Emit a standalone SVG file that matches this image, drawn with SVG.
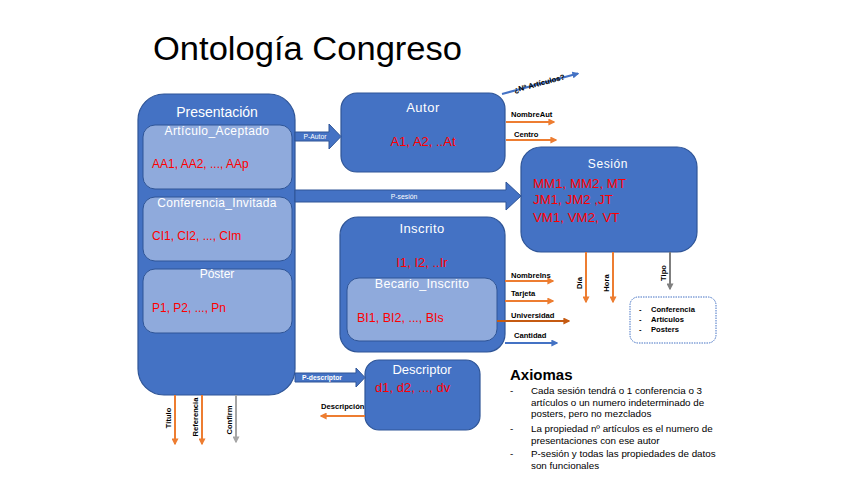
<svg xmlns="http://www.w3.org/2000/svg" width="848" height="477" viewBox="0 0 848 477">
<defs>
<style>
.box{fill:#4472C4;stroke:#2F5597;stroke-width:1.2}
.inner{fill:#8FAADC;stroke:#2F5597;stroke-width:1}
.wt{fill:#fff;font-family:"Liberation Sans",Arial,sans-serif;text-anchor:middle}
.rt{fill:#FF0000;font-family:"Liberation Sans",Arial,sans-serif}
.lbl{fill:#000;font-family:"Liberation Sans",Arial,sans-serif;font-size:7.6px;font-weight:bold}
.blk{fill:#4472C4;stroke:#2F5597;stroke-width:1}
.bl{fill:#fff;font-family:"Liberation Sans",Arial,sans-serif;font-size:6.8px;text-anchor:middle}
.or{stroke:#ED7D31;stroke-width:2;fill:none;marker-end:url(#ao)}
.dor{stroke:#C55A11;stroke-width:2;fill:none;marker-end:url(#ad)}
.gr{stroke:#A5A5A5;stroke-width:2;fill:none;marker-end:url(#ag)}
.gr2{stroke:#7F7F7F;stroke-width:2;fill:none;marker-end:url(#ag2)}
.bu{stroke:#4472C4;stroke-width:2;fill:none;marker-end:url(#ab)}
.ax{fill:#000;font-family:"Liberation Sans",Arial,sans-serif;font-size:9.8px}
</style>
<marker id="ao" viewBox="0 0 10 10" refX="8" refY="5" markerWidth="3.5" markerHeight="3.5" orient="auto"><path d="M0,0 L10,5 L0,10 z" fill="#ED7D31"/></marker>
<marker id="ad" viewBox="0 0 10 10" refX="8" refY="5" markerWidth="3.5" markerHeight="3.5" orient="auto"><path d="M0,0 L10,5 L0,10 z" fill="#C55A11"/></marker>
<marker id="ag" viewBox="0 0 10 10" refX="8" refY="5" markerWidth="3.5" markerHeight="3.5" orient="auto"><path d="M0,0 L10,5 L0,10 z" fill="#A5A5A5"/></marker>
<marker id="ag2" viewBox="0 0 10 10" refX="8" refY="5" markerWidth="3.5" markerHeight="3.5" orient="auto"><path d="M0,0 L10,5 L0,10 z" fill="#7F7F7F"/></marker>
<marker id="ab" viewBox="0 0 10 10" refX="8" refY="5" markerWidth="3.5" markerHeight="3.5" orient="auto"><path d="M0,0 L10,5 L0,10 z" fill="#4472C4"/></marker>
</defs>
<rect width="848" height="477" fill="#fff"/>
<text x="153" y="60" font-family="'Liberation Sans',Arial,sans-serif" font-size="34" fill="#000" textLength="309" lengthAdjust="spacingAndGlyphs">Ontología Congreso</text>

<g id="presentacion">
<rect class="box" x="138" y="94" width="157" height="301" rx="26"/>
<text class="wt" x="217" y="117" font-size="14">Presentación</text>
<g id="articulo_aceptado">
<rect class="inner" x="143" y="125" width="149" height="64" rx="12"/>
<text class="wt" x="217" y="135" font-size="12" letter-spacing="0.4">Artículo_Aceptado</text>
<text class="rt" x="152" y="168" font-size="12">AA1, AA2, ..., AAp</text>
</g>
<g id="conferencia_invitada">
<rect class="inner" x="143" y="197" width="149" height="64" rx="12"/>
<text class="wt" x="217" y="207" font-size="12" letter-spacing="0.3">Conferencia_Invitada</text>
<text class="rt" x="152" y="240" font-size="12">CI1, CI2, ..., CIm</text>
</g>
<g id="poster">
<rect class="inner" x="143" y="269" width="149" height="64" rx="12"/>
<text class="wt" x="217" y="278" font-size="12">Póster</text>
<text class="rt" x="152" y="312" font-size="12">P1, P2, ..., Pn</text>
</g>
</g>

<g id="autor">
<rect class="box" x="341" y="93" width="164" height="79" rx="16"/>
<text class="wt" x="423" y="112" font-size="13" letter-spacing="0.5">Autor</text>
<text class="rt" x="423" y="146" font-size="13" text-anchor="middle">A1, A2, ..At</text>
</g>

<g id="sesion">
<rect class="box" x="521" y="147" width="176" height="105" rx="20"/>
<text class="wt" x="608" y="168" font-size="12" letter-spacing="0.6">Sesión</text>
<text class="rt" x="533" y="188" font-size="13.3">MM1, MM2, MT</text>
<text class="rt" x="533" y="204" font-size="13.3">JM1, JM2 ,JT</text>
<text class="rt" x="533" y="222" font-size="13.3">VM1, VM2, VT</text>
</g>

<g id="inscrito">
<rect class="box" x="340" y="217" width="165" height="135" rx="18"/>
<text class="wt" x="422" y="233" font-size="13" letter-spacing="0.4">Inscrito</text>
<text class="rt" x="422" y="267" font-size="13" text-anchor="middle">I1, I2, ..Ir</text>
<g id="becario_inscrito">
<rect class="inner" x="347" y="278" width="150" height="63" rx="12"/>
<text class="wt" x="422" y="288" font-size="12.5" letter-spacing="0.3">Becario_Inscrito</text>
<text class="rt" x="357" y="322" font-size="12.5">BI1, BI2, ..., BIs</text>
</g>
</g>

<g id="descriptor">
<rect class="box" x="365" y="360" width="115" height="70" rx="14"/>
<text class="wt" x="422" y="374" font-size="13">Descriptor</text>
<text class="rt" x="375" y="392" font-size="13">d1, d2, ..., dv</text>
</g>

<g id="tipo_valores">
<rect x="630" y="297" width="86" height="46" rx="8" fill="#fff" stroke="#4472C4" stroke-width="1" stroke-dasharray="1.5,1"/>
<text class="lbl" x="639" y="312" font-weight="normal">-</text>
<text class="lbl" x="651" y="312">Conferencia</text>
<text class="lbl" x="639" y="322" font-weight="normal">-</text>
<text class="lbl" x="651" y="322">Artículos</text>
<text class="lbl" x="639" y="332" font-weight="normal">-</text>
<text class="lbl" x="651" y="332">Posters</text>
</g>

<g id="connectors">
<path class="blk" d="M295,132 H329 V124 L341,136.5 L329,149 V141 H295 Z"/>
<text class="bl" x="315" y="139">P-Autor</text>
<path class="blk" d="M295,190 H506 V182 L521,196 L506,210 V202 H295 Z"/>
<text class="bl" x="404" y="199">P-sesión</text>
<path class="blk" d="M295,373 H356 V368 L365,377.5 L356,387 V382 H295 Z"/>
<text class="bl" x="322" y="380" font-weight="bold">P-descriptor</text>

<line class="bu" x1="502" y1="94" x2="578" y2="73.5"/>
<text class="lbl" x="540" y="86" text-anchor="middle" font-weight="normal" transform="rotate(-15 540 86)">¿Nº Artículos?</text>

<line class="or" x1="506" y1="122" x2="554" y2="122"/>
<text class="lbl" x="511" y="117">NombreAut</text>
<line class="or" x1="506" y1="140" x2="556" y2="140"/>
<text class="lbl" x="514" y="137">Centro</text>

<line class="or" x1="505" y1="281" x2="553" y2="281"/>
<text class="lbl" x="511" y="278">NombreIns</text>
<line class="or" x1="505" y1="301" x2="553" y2="301"/>
<text class="lbl" x="511" y="296">Tarjeta</text>
<line class="dor" x1="497" y1="321" x2="569" y2="321"/>
<text class="lbl" x="511" y="318">Universidad</text>
<line class="bu" x1="505" y1="343" x2="557" y2="343"/>
<text class="lbl" x="514" y="338">Cantidad</text>

<line class="or" x1="586" y1="252" x2="586" y2="302"/>
<text class="lbl" x="582" y="283" text-anchor="middle" transform="rotate(-90 582 283)">Día</text>
<line class="or" x1="613" y1="252" x2="613" y2="302"/>
<text class="lbl" x="609" y="283" text-anchor="middle" transform="rotate(-90 609 283)">Hora</text>
<line class="gr2" x1="670" y1="252" x2="670" y2="289"/>
<text class="lbl" x="666" y="273" text-anchor="middle" transform="rotate(-90 666 273)">Tipo</text>

<line class="or" x1="365" y1="416" x2="321" y2="416"/>
<text class="lbl" x="321" y="409">Descripción</text>

<line class="or" x1="175" y1="395" x2="175" y2="444"/>
<text class="lbl" x="171" y="418" text-anchor="middle" transform="rotate(-90 171 418)">Título</text>
<line class="or" x1="202" y1="395" x2="202" y2="444"/>
<text class="lbl" x="198" y="417" text-anchor="middle" transform="rotate(-90 198 417)">Referencia</text>
<line class="gr" x1="236" y1="395" x2="236" y2="442"/>
<text class="lbl" x="232" y="420" text-anchor="middle" transform="rotate(-90 232 420)">Confirm</text>
</g>

<g id="axiomas">
<text x="510" y="380" font-family="'Liberation Sans',Arial,sans-serif" font-size="15" font-weight="bold" fill="#000">Axiomas</text>
<text class="ax" x="510" y="394">-</text>
<text class="ax" x="531" y="394">Cada sesión tendrá o 1 conferencia o 3</text>
<text class="ax" x="531" y="405.5">artículos o un numero indeterminado de</text>
<text class="ax" x="531" y="417">posters, pero no mezclados</text>
<text class="ax" x="510" y="432">-</text>
<text class="ax" x="531" y="432">La propiedad nº artículos es el numero de</text>
<text class="ax" x="531" y="443.5">presentaciones con ese autor</text>
<text class="ax" x="510" y="457">-</text>
<text class="ax" x="531" y="457">P-sesión y todas las propiedades de datos</text>
<text class="ax" x="531" y="468.5">son funcionales</text>
</g>
</svg>
